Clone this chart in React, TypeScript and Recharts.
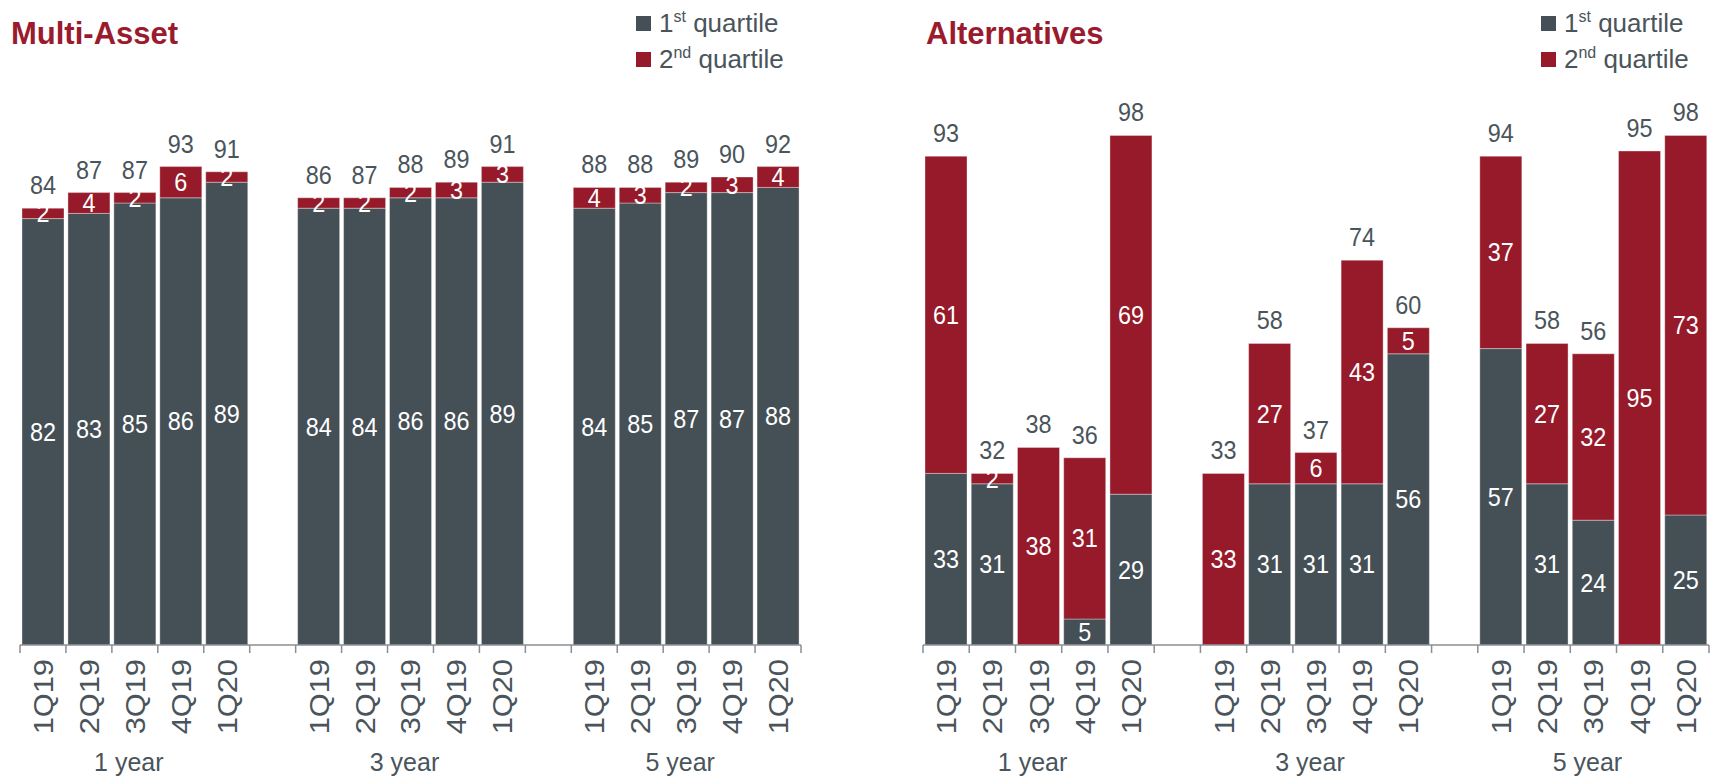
import React from "react"
import { BarChart, Bar, XAxis, YAxis, LabelList } from "recharts"

const quarters = ["1Q19", "2Q19", "3Q19", "4Q19", "1Q20"]
const periods = ["1 year", "3 year", "5 year"]

// Multi-Asset, in order 1 year / 3 year / 5 year, each 1Q19..1Q20
const multiFirst = [82, 83, 85, 86, 89, 84, 84, 86, 86, 89, 84, 85, 87, 87, 88]
const multiSecond = [2, 4, 2, 6, 2, 2, 2, 2, 3, 3, 4, 3, 2, 3, 4]
const multiTotal = [84, 87, 87, 93, 91, 86, 87, 88, 89, 91, 88, 88, 89, 90, 92]

// Alternatives
const altFirst = [33, 31, 0, 5, 29, 0, 31, 31, 31, 56, 57, 31, 24, 0, 25]
const altSecond = [61, 2, 38, 31, 69, 33, 27, 6, 43, 5, 37, 27, 32, 95, 73]
const altTotal = [93, 32, 38, 36, 98, 33, 58, 37, 74, 60, 94, 58, 56, 95, 98]

const GREY = "#454F56"
const RED = "#961A29"
const TEXT = "#4A545B"
const FONT = "'Liberation Sans', Arial, sans-serif"

const CHART_W = 864
const CHART_H = 778
const AXIS_Y = 645
const PLOT_TOP = 125
const X_AXIS_H = 120

type Row = {
  key: string
  quarter: string
  period: string
  q1: number | null
  q2: number | null
  total: number | null
}

function buildRows(first: number[], second: number[], total: number[]): Row[] {
  const rows: Row[] = []
  periods.forEach((period, p) => {
    if (p > 0) {
      rows.push({ key: `gap${p}`, quarter: "", period: "", q1: null, q2: null, total: null })
    }
    quarters.forEach((quarter, q) => {
      const i = p * quarters.length + q
      rows.push({ key: `${period}-${quarter}`, quarter, period, q1: first[i], q2: second[i], total: total[i] })
    })
  })
  return rows
}

const multiRows = buildRows(multiFirst, multiSecond, multiTotal)
const altRows = buildRows(altFirst, altSecond, altTotal)

// numbers in the original are slightly condensed
const NumText = ({ cx, cy, fill, children, central }: any) => (
  <text
    transform={`translate(${cx},${cy}) scale(0.9,1)`}
    textAnchor="middle"
    dominantBaseline={central ? "central" : "auto"}
    fill={fill}
    fontSize={26}
    fontFamily={FONT}
  >
    {children}
  </text>
)

const InnerLabel = (props: any) => {
  const { x, y, width, height, value } = props
  if (!value) return null
  return (
    <NumText cx={Number(x) + Number(width) / 2} cy={Number(y) + Number(height) / 2} fill="#ffffff" central>
      {value}
    </NumText>
  )
}

const TotalLabel = (props: any) => {
  const { x, y, width, value } = props
  if (value === null || value === undefined) return null
  return (
    <NumText cx={Number(x) + Number(width) / 2} cy={Number(y) - 14} fill={TEXT}>
      {value}
    </NumText>
  )
}

function QuarterTick(props: any) {
  const { x, y, index, rows, band } = props
  const row: Row = rows[index]
  const left = x - band / 2
  const isLast = index === rows.length - 1
  // middle quarter of each group carries the period label
  const showPeriod = row && row.quarter === quarters[2]
  return (
    <g>
      <line x1={left} x2={left} y1={y} y2={y + 8} stroke="#8A8F93" strokeWidth={1.5} />
      {isLast && <line x1={x + band / 2} x2={x + band / 2} y1={y} y2={y + 8} stroke="#8A8F93" strokeWidth={1.5} />}
      {row && row.quarter && (
        <text
          transform={`translate(${x},${y + 14}) rotate(-90) scale(1.1,1)`}
          textAnchor="end"
          dominantBaseline="central"
          fill={TEXT}
          fontSize={28}
          fontFamily={FONT}
        >
          {row.quarter}
        </text>
      )}
      {showPeriod && (
        <text x={x - 6} y={y + 126} textAnchor="middle" fill={TEXT} fontSize={25} fontFamily={FONT}>
          {row.period}
        </text>
      )}
    </g>
  )
}

function QuartileChart({ rows, left, right }: { rows: Row[]; left: number; right: number }) {
  const band = (CHART_W - left - right) / rows.length
  return (
    <BarChart
      width={CHART_W}
      height={CHART_H}
      data={rows}
      margin={{ top: PLOT_TOP, right, left, bottom: CHART_H - AXIS_Y - X_AXIS_H }}
      barCategoryGap={2}
    >
      <XAxis
        dataKey="key"
        interval={0}
        height={X_AXIS_H}
        tickSize={0}
        tickMargin={0}
        tickLine={false}
        axisLine={{ stroke: "#8A8F93", strokeWidth: 1.5 }}
        tick={(p: any) => <QuarterTick {...p} rows={rows} band={band} />}
      />
      <YAxis hide domain={[0, 100]} />
      <Bar dataKey="q1" stackId="a" fill={GREY} stroke="#ffffff" strokeOpacity={0.35} strokeWidth={1} isAnimationActive={false}>
        <LabelList dataKey="q1" content={InnerLabel} />
      </Bar>
      <Bar dataKey="q2" stackId="a" fill={RED} stroke="#ffffff" strokeOpacity={0.35} strokeWidth={1} isAnimationActive={false}>
        <LabelList dataKey="q2" content={InnerLabel} />
        <LabelList dataKey="total" content={TotalLabel} />
      </Bar>
    </BarChart>
  )
}

function Legend({ x }: { x: number }) {
  const item = (top: number, color: string, num: string, sup: string) => (
    <div style={{ position: "absolute", left: x, top, display: "flex", alignItems: "center", lineHeight: 1 }}>
      <div style={{ width: 15, height: 15, background: color, marginRight: 8, marginTop: 2 }} />
      <span style={{ fontSize: 26, color: TEXT, fontFamily: FONT }}>
        {num}
        <sup style={{ fontSize: 16 }}>{sup}</sup> quartile
      </span>
    </div>
  )
  return (
    <>
      {item(9, GREY, "1", "st")}
      {item(45, RED, "2", "nd")}
    </>
  )
}

function Title({ x, text }: { x: number; text: string }) {
  return (
    <div
      style={{
        position: "absolute",
        left: x,
        top: 18,
        fontSize: 31,
        fontWeight: "bold",
        lineHeight: 1,
        color: "#9A1B2D",
        fontFamily: FONT,
      }}
    >
      {text}
    </div>
  )
}

export default function App() {
  return (
    <div style={{ position: "absolute", left: 0, top: 0, width: 1728, height: 778, background: "#fff" }}>
      <div style={{ position: "absolute", left: 0, top: 0 }}>
        <QuartileChart rows={multiRows} left={20} right={63} />
      </div>
      <div style={{ position: "absolute", left: 864, top: 0 }}>
        <QuartileChart rows={altRows} left={59} right={19} />
      </div>
      <Title x={11} text="Multi-Asset" />
      <Title x={926} text="Alternatives" />
      <Legend x={636} />
      <Legend x={1541} />
    </div>
  )
}
